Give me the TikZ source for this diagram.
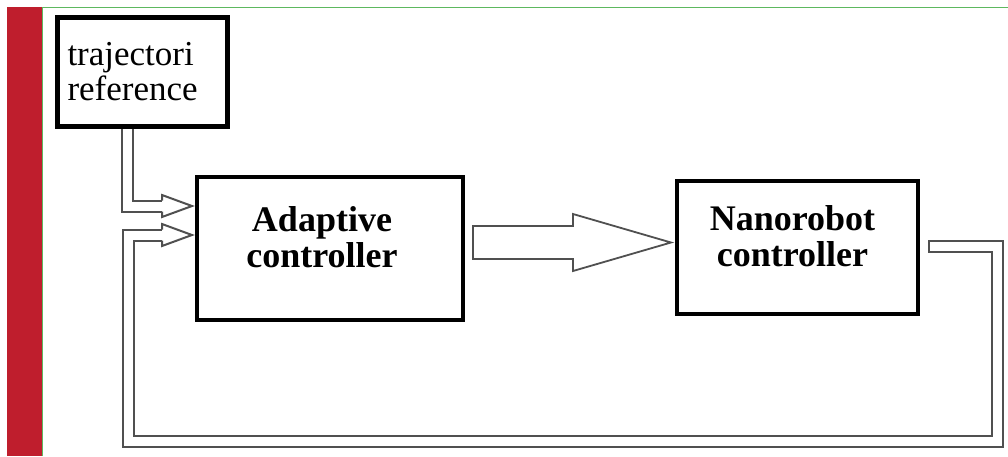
\documentclass[tikz,border=0pt]{standalone}
\usepackage{fontspec}
\setmainfont{Liberation Serif}
\usetikzlibrary{arrows.meta,calc,positioning}
\definecolor{barred}{HTML}{BF1E2D}
\definecolor{rulegreen}{HTML}{5DB85F}
\definecolor{linegray}{HTML}{505050}
\begin{document}
\begin{tikzpicture}[
    x=1pt, y=1pt,
    block/.style={rectangle, draw, line width=4pt, minimum width=266pt, minimum height=143pt},
    block text/.style={align=center, inner sep=0pt, font=\fontsize{36}{36}\selectfont\bfseries},
    source/.style={rectangle, draw, line width=5pt, minimum width=170pt, minimum height=109pt, text width=150pt, inner xsep=10pt, align=left, font=\fontsize{35}{35}\selectfont},
    signal/.style={draw=linegray, line width=2pt, double=white, double distance=9pt, line join=miter, shorten >=30pt},
    signal head/.pic={\draw[linegray, line width=2pt, line join=miter] (-30,5.5) -- (-30,11) -- (0,0) -- (-30,-11) -- (-30,-5.5);},
    big arrow/.style={draw=linegray, line width=1.8pt, fill=white, line join=miter}
]
\useasboundingbox (0,0) rectangle (1008,-456);

% page edge
\fill[barred] (7,-7) rectangle (42,-456);
\draw[rulegreen, line width=1.8pt] (42.5,-456) -- (42.5,-7.5) -- (1008,-7.5);

% Blocks
\node[source] (traj) at (142.5,-72) {trajectori\\reference};
\node[block] (adapt) at (330,-248.5) {};
\node[block, minimum width=241pt, minimum height=133pt] (nano) at (797.5,-247.5) {};
\node[block text] (adapt text) at ($(adapt)+(-8,11)$) {Adaptive\\controller};
\node[block text] (nano text) at ($(nano)+(-5,11)$) {Nanorobot\\controller};

% Reference input
\coordinate (in1) at ($(adapt.west)+(-3,42.5)$);
\draw[signal] ($(traj.south)+(-15,0)$) |- (in1);
\pic at (in1) {signal head};

% Controller to plant
\coordinate (tail) at ($(adapt.east)+(8,6)$);
\coordinate (tip) at ($(nano.west)+(-4,5)$);
\draw[big arrow] ($(tail)+(0,16.5)$) -- ($(tip)+(-98,16.5)$) -- ($(tip)+(-98,28.5)$) -- (tip)
    -- ($(tip)+(-98,-28.5)$) -- ($(tip)+(-98,-16.5)$) -- ($(tail)+(0,-16.5)$) -- cycle;

% Feedback loop
\coordinate (fbout) at ($(nano.east)+(9,1)$);
\coordinate (fbR) at (997.5,-441);
\coordinate (fbL) at (128.5,-441);
\coordinate (in2) at ($(adapt.west)+(-3,13.5)$);
\draw[signal] (fbout) -| (fbR) -- (fbL) |- (in2);
\draw[linegray, line width=2pt, line cap=rect] ($(fbout)+(0,5.5)$) -- ($(fbout)+(0,-5.5)$);
\pic at (in2) {signal head};
\end{tikzpicture}
\end{document}
